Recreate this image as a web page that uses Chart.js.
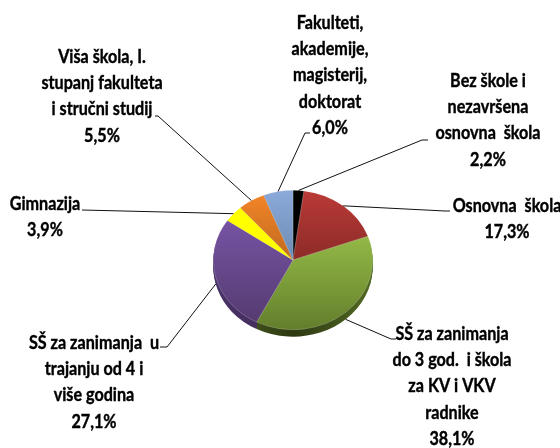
<!DOCTYPE html>
<html><head><meta charset="utf-8">
<style>html,body{margin:0;padding:0;background:#fff}#w{width:560px;height:448px}</style>
<script src="https://cdn.jsdelivr.net/npm/chart.js@4"></script></head>
<body><div id="w"><canvas id="c" width="560" height="448"></canvas></div>
<script>
const categories = ["Bez škole i nezavršena osnovna škola","Osnovna škola","SŠ za zanimanja do 3 god. i škola za KV i VKV radnike","SŠ za zanimanja u trajanju od 4 i više godina","Gimnazija","Viša škola, I. stupanj fakulteta i stručni studij","Fakulteti, akademije, magisterij, doktorat"];
const values = [2.2,17.3,38.1,27.1,3.9,5.5,6.0];
const valueLabels = ["2,2%","17,3%","38,1%","27,1%","3,9%","5,5%","6,0%"];
const labelLines = [
 ["Bez škole i","nezavršena","osnovna  škola"],
 ["Osnovna  škola"],
 ["SŠ za zanimanja","do 3 god.  i škola","za KV i VKV","radnike"],
 ["SŠ za zanimanja  u","trajanju od 4 i","više godina"],
 ["Gimnazija"],
 ["Viša škola, I.","stupanj fakulteta","i stručni studij"],
 ["Fakulteti,","akademije,","magisterij,","doktorat"]
];
const topColors = ["#000000","#BA3A36","#93B946","#7653A4","#FFFF00","#F28428","#8CAADA"];
const bottomColors = ["#000000","#8C2B28","#637E2C","#553B70","#FFFF00","#BF6A1E","#6C8BB2"];
const sideColors = ["#000000","#5a1a18","#2C3811","#3F2B58","#999900","#8a4c14","#4f6a8c"];
const sideEdgeColors = ["#000000","#5a1a18","#526B24","#4A3368","#999900","#8a4c14","#4f6a8c"];
const labelX = [488,507,452,94,45,102,330];
const labelY = [81,206,334,343,204,57,23];
const lineGap = 26.3;
const elbows = [[422,140,428,140],[445,211,450,211],[391,339,396,339],[167,347,160,347],[82,210,82,210],[158,116,155,116],[305,133,310,133]];
const squash = 0.875, depth = 7;
const total = values.reduce((a,b)=>a+b,0);

function sliceGradient(ctx){
  const chart = ctx.chart, i = ctx.dataIndex, a = chart.chartArea;
  if(!a) return topColors[i];
  const cy=(a.top+a.bottom)/2, r=(a.bottom-a.top)/2;
  let s=0; for(let k=0;k<i;k++) s+=values[k];
  const t0=s/total*2*Math.PI, t1=(s+values[i])/total*2*Math.PI;
  let ys=[cy,cy-r*Math.cos(t0),cy-r*Math.cos(t1)];
  if(t0<Math.PI&&t1>Math.PI) ys.push(cy+r);
  const g=chart.ctx.createLinearGradient(0,Math.min(...ys),0,Math.max(...ys));
  g.addColorStop(0,topColors[i]); g.addColorStop(1,bottomColors[i]);
  return g;
}
const squashPlugin = {
  id:'squash',
  beforeDatasetsDraw(chart){
    const ctx=chart.ctx, arcs=chart.getDatasetMeta(0).data, cy=arcs[0].y;
    ctx.save();
    ctx.translate(0,cy); ctx.scale(1,squash); ctx.translate(0,-cy);
    for(let d=depth;d>=1;d--){
      arcs.forEach((arc,i)=>{
        const r=arc.outerRadius;
        const g=ctx.createLinearGradient(arc.x-r,0,arc.x+r,0);
        g.addColorStop(0,sideEdgeColors[i]); g.addColorStop(0.5,sideColors[i]); g.addColorStop(1,sideEdgeColors[i]);
        ctx.beginPath();
        ctx.moveTo(arc.x,arc.y+d/squash);
        ctx.arc(arc.x,arc.y+d/squash,r,arc.startAngle,arc.endAngle);
        ctx.closePath();
        ctx.fillStyle=g;
        ctx.fill();
      });
    }
  },
  afterDatasetsDraw(chart){ chart.ctx.restore(); },
  afterDraw(chart){
    const ctx=chart.ctx, arcs=chart.getDatasetMeta(0).data;
    ctx.save();
    arcs.forEach((arc,i)=>{
      const m=(arc.startAngle+arc.endAngle)/2, sn=Math.sin(m);
      const px=arc.x+arc.outerRadius*Math.cos(m);
      const py=arc.y+arc.outerRadius*sn*squash+(sn>0.1?depth:0);
      const e=elbows[i];
      ctx.beginPath(); ctx.moveTo(px,py); ctx.lineTo(e[0],e[1]); ctx.lineTo(e[2],e[3]);
      ctx.strokeStyle='#111'; ctx.lineWidth=1; ctx.stroke();
    });
    ctx.fillStyle='#000'; ctx.strokeStyle='#000'; ctx.lineWidth=0.35; ctx.font='700 16px Lato'; ctx.textAlign='center'; ctx.textBaseline='middle';
    labelLines.forEach((ls,i)=>{
      [...ls,valueLabels[i]].forEach((t,k)=>{
        ctx.save();
        ctx.translate(labelX[i],labelY[i]+k*lineGap);
        ctx.scale(1.01,1.14);
        ctx.fillText(t,0,0);
        ctx.strokeText(t,0,0);
        ctx.restore();
      });
    });
    ctx.restore();
  }
};
new Chart(document.getElementById('c'),{
  type:'pie',
  data:{labels:categories,datasets:[{data:values,backgroundColor:sliceGradient,borderWidth:0.6,borderColor:'rgba(255,255,255,0.35)',clip:false}]},
  options:{
    responsive:false,animation:false,
    layout:{padding:{left:213,right:187,top:180,bottom:108}},
    plugins:{legend:{display:false},tooltip:{enabled:false}}
  },
  plugins:[squashPlugin]
});
</script></body></html>
